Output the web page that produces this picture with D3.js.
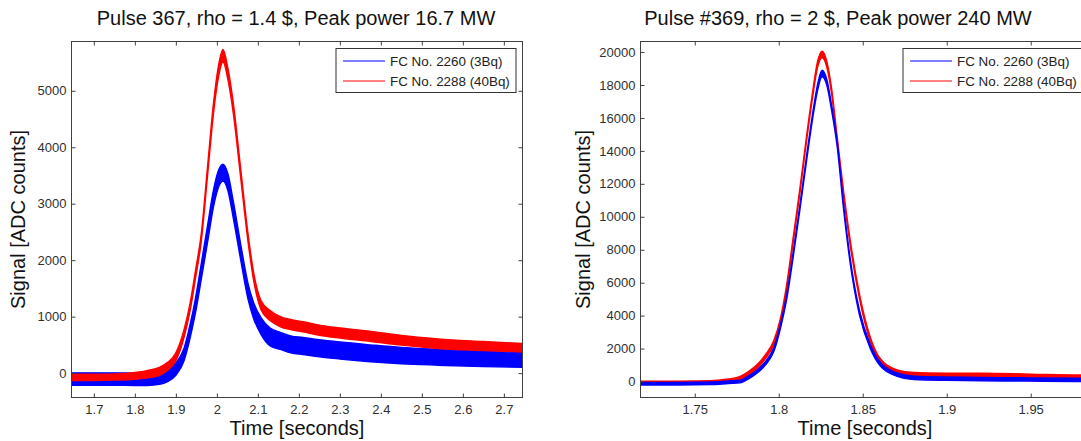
<!DOCTYPE html>
<html>
<head>
<meta charset="utf-8">
<script src="https://cdnjs.cloudflare.com/ajax/libs/d3/7.8.5/d3.min.js"></script>
<style>
body { margin: 0; background: #fff; }
svg { display: block; font-family: "Liberation Sans", Arial, sans-serif; }
.tick text { fill: #303030; font-size: 13px; }
.tick line { stroke: #404040; }
</style>
</head>
<body>
<div id="graph"></div>
<script>
// pulse 367 (left panel): time in seconds, signal in ADC counts, noise = half width of the band
var timeA = [1.645, 1.70, 1.75, 1.80, 1.83, 1.86, 1.88, 1.90, 1.92, 1.935, 1.948, 1.962, 1.977, 1.992, 2.003, 2.015, 2.027, 2.04, 2.058, 2.076, 2.09, 2.108, 2.13, 2.155, 2.18, 2.21, 2.25, 2.30, 2.375, 2.45, 2.54, 2.65, 2.745];
var fc2260A = [-105, -105, -105, -110, -110, -90, -40, 70, 330, 750, 1200, 1800, 2450, 3100, 3420, 3550, 3380, 2900, 2150, 1450, 1100, 830, 640, 570, 510, 480, 440, 400, 350, 310, 280, 250, 235];
var fc2260NoiseA = [110, 110, 110, 110, 110, 110, 110, 110, 110, 120, 130, 140, 150, 150, 150, 150, 150, 150, 140, 140, 140, 150, 160, 150, 150, 150, 150, 150, 150, 145, 140, 135, 130];
var fc2288A = [-75, -75, -70, -50, -20, 30, 120, 290, 700, 1180, 1750, 2400, 3550, 4700, 5300, 5620, 5300, 4700, 3550, 2400, 1700, 1200, 1020, 910, 860, 820, 760, 710, 650, 580, 520, 480, 450];
var fc2288NoiseA = [55, 55, 55, 60, 65, 70, 70, 70, 70, 70, 70, 70, 80, 90, 100, 110, 100, 90, 80, 70, 70, 80, 90, 90, 90, 90, 90, 90, 90, 85, 85, 80, 75];
var xTicksA = [1.7, 1.8, 1.9, 2, 2.1, 2.2, 2.3, 2.4, 2.5, 2.6, 2.7];
var yTicksA = [0, 1000, 2000, 3000, 4000, 5000];

// pulse 369 (right panel)
var timeB = [1.7177, 1.74, 1.76, 1.77, 1.777, 1.782, 1.787, 1.792, 1.797, 1.801, 1.8045, 1.8086, 1.8125, 1.8165, 1.820, 1.823, 1.8258, 1.8285, 1.8315, 1.8348, 1.8385, 1.8423, 1.848, 1.8546, 1.8605, 1.8705, 1.8804, 1.90, 1.92, 1.95, 1.9777, 1.99];
var fc2260B = [-130, -130, -110, -40, 0, 250, 600, 1100, 1925, 3340, 5000, 7700, 10500, 13500, 16000, 17800, 18700, 18200, 16600, 14400, 10700, 7500, 4200, 2100, 1050, 420, 220, 170, 150, 120, 100, 100];
var fc2260NoiseB = [80, 80, 80, 80, 80, 90, 100, 100, 120, 120, 140, 150, 150, 150, 160, 180, 200, 180, 160, 150, 150, 150, 140, 120, 110, 100, 100, 100, 100, 100, 100, 100];
var fc2288B = [-70, -70, -40, 60, 220, 500, 900, 1500, 2350, 3700, 5600, 8600, 11500, 14700, 17300, 19200, 19850, 19300, 17600, 14700, 11500, 8600, 5200, 2530, 1250, 560, 400, 360, 350, 300, 250, 250];
var fc2288NoiseB = [90, 90, 90, 90, 90, 100, 110, 120, 120, 130, 140, 150, 150, 150, 160, 180, 200, 180, 160, 150, 150, 150, 140, 130, 130, 140, 150, 150, 150, 150, 150, 150];
var xTicksB = [1.75, 1.8, 1.85, 1.9, 1.95];
var yTicksB = [0, 2000, 4000, 6000, 8000, 10000, 12000, 14000, 16000, 18000, 20000];

var legendLabels = ["FC No. 2260 (3Bq)", "FC No. 2288 (40Bq)"];
var seriesColors = ["#0000ff", "#ff0000"];

const fullWidth = 1081;
const fullHeight = 441;

var svg = d3.select("#graph")
	.append("svg")
	.attr("width", fullWidth)
	.attr("height", fullHeight);

var panels = [
	{
		id: "a",
		box: { left: 71.5, right: 522.5, top: 41.5, bottom: 397.5 },
		xDomain: [1.6455, 2.7455],
		yDomain: [-432, 5873],
		time: timeA,
		series: [[fc2260A, fc2260NoiseA], [fc2288A, fc2288NoiseA]],
		order: [0, 1],
		xTicks: xTicksA,
		yTicks: yTicksA,
		title: "Pulse 367, rho = 1.4 $, Peak power 16.7 MW",
		titleX: 296,
		yLabelX: 25
	},
	{
		id: "b",
		box: { left: 640.5, right: 1089.5, top: 41.5, bottom: 397.5 },
		xDomain: [1.7177, 1.9850],
		yDomain: [-971, 20640],
		time: timeB,
		series: [[fc2260B, fc2260NoiseB], [fc2288B, fc2288NoiseB]],
		order: [1, 0],
		xTicks: xTicksB,
		yTicks: yTicksB,
		title: "Pulse #369, rho = 2 $, Peak power 240 MW",
		titleX: 838,
		yLabelX: 590
	}
];

panels.forEach(function (p) {
	var b = p.box;
	var x = d3.scaleLinear().domain(p.xDomain).range([b.left, b.right]);
	var y = d3.scaleLinear().domain(p.yDomain).range([b.bottom, b.top]);
	var g = svg.append("g");

	g.append("clipPath")
		.attr("id", "clip-" + p.id)
		.append("rect")
		.attr("x", b.left)
		.attr("y", b.top)
		.attr("width", b.right - b.left)
		.attr("height", b.bottom - b.top);

	// noisy signal drawn as a band between low and high envelope
	var plot = g.append("g").attr("clip-path", "url(#clip-" + p.id + ")");
	p.order.forEach(function (k) {
		var vals = p.series[k][0];
		var noise = p.series[k][1];
		var area = d3.area()
			.curve(d3.curveMonotoneX)
			.x((d, i) => x(p.time[i]))
			.y0((d, i) => y(vals[i] - noise[i]))
			.y1((d, i) => y(vals[i] + noise[i]));
		plot.append("path")
			.datum(vals)
			.attr("d", area)
			.attr("fill", seriesColors[k])
			.attr("stroke", seriesColors[k])
			.attr("stroke-width", 1.4)
			.attr("stroke-linejoin", "round");
	});

	var fmt = d => String(+d.toFixed(2));

	g.append("g")
		.attr("transform", `translate(0,${b.bottom})`)
		.call(d3.axisBottom(x).tickValues(p.xTicks).tickFormat(fmt).tickSizeInner(-4).tickSizeOuter(0).tickPadding(7))
		.call(a => a.select(".domain").remove());
	g.append("g")
		.attr("transform", `translate(0,${b.top})`)
		.call(d3.axisTop(x).tickValues(p.xTicks).tickFormat("").tickSizeInner(-4).tickSizeOuter(0))
		.call(a => a.select(".domain").remove());
	g.append("g")
		.attr("transform", `translate(${b.left},0)`)
		.call(d3.axisLeft(y).tickValues(p.yTicks).tickFormat(d3.format("d")).tickSizeInner(-4).tickSizeOuter(0).tickPadding(5))
		.call(a => a.select(".domain").remove());
	g.append("g")
		.attr("transform", `translate(${b.right},0)`)
		.call(d3.axisRight(y).tickValues(p.yTicks).tickFormat("").tickSizeInner(-4).tickSizeOuter(0))
		.call(a => a.select(".domain").remove());

	g.selectAll(".tick text").attr("font-size", null).attr("font-family", null);

	g.append("rect")
		.attr("x", b.left)
		.attr("y", b.top)
		.attr("width", b.right - b.left)
		.attr("height", b.bottom - b.top)
		.attr("fill", "none")
		.attr("stroke", "#404040");

	// legend
	var lx = b.right - 186.5;
	var ly = b.top + 7;
	var legend = g.append("g").attr("transform", `translate(${lx},${ly})`);
	legend.append("rect")
		.attr("width", 180)
		.attr("height", 44)
		.attr("fill", "#fff")
		.attr("stroke", "#333");
	legend.selectAll(".item")
		.data(legendLabels)
		.enter()
		.append("g")
		.attr("transform", (d, i) => `translate(0,${12.5 + i * 20})`)
		.each(function (d, i) {
			var it = d3.select(this);
			it.append("line")
				.attr("x1", 7).attr("x2", 49)
				.attr("stroke", seriesColors[i])
				.attr("stroke-width", 1);
			it.append("text")
				.attr("x", 54)
				.attr("dy", "0.36em")
				.attr("font-size", 13.4)
				.attr("fill", "#222")
				.text(d);
		});

	// titles and axis labels
	g.append("text")
		.text(p.title)
		.attr("x", p.titleX)
		.attr("y", 25)
		.attr("font-size", 20)
		.attr("fill", "#111")
		.style("text-anchor", "middle");

	g.append("text")
		.text("Time [seconds]")
		.attr("x", (b.left + b.right) / 2)
		.attr("y", 435)
		.attr("font-size", 20)
		.attr("fill", "#111")
		.style("text-anchor", "middle");

	g.append("text")
		.text("Signal [ADC counts]")
		.attr("transform", `translate(${p.yLabelX},${(b.top + b.bottom) / 2}) rotate(-90)`)
		.attr("font-size", 20)
		.attr("fill", "#111")
		.style("text-anchor", "middle");
});
</script>
</body>
</html>
